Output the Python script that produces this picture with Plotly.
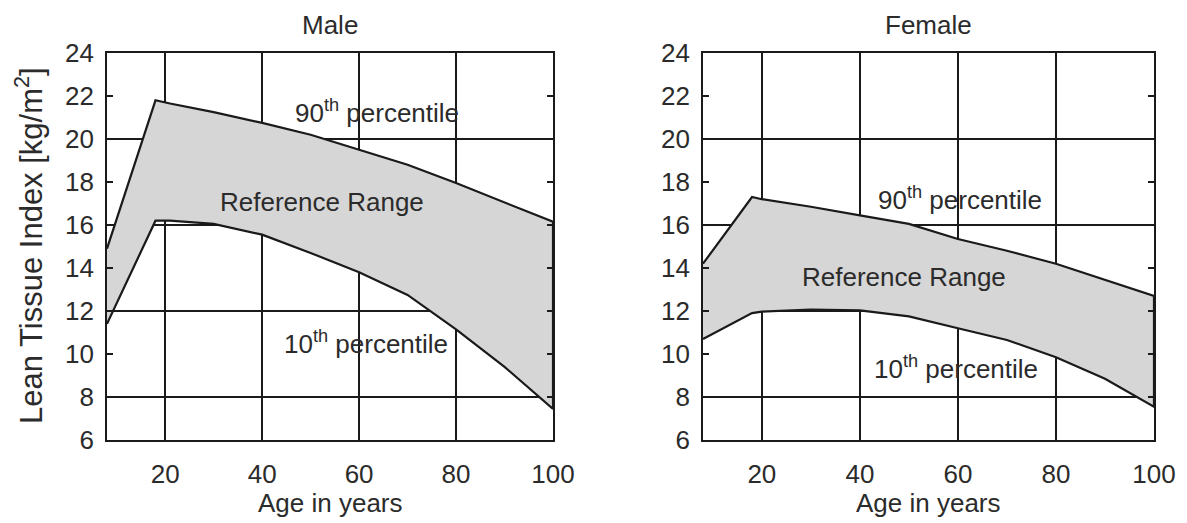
import plotly.graph_objects as go

# Age grid (years) at which the percentile curves are sampled
male_age = [8, 18, 21, 30, 40, 50, 60, 70, 80, 90, 100]
male_p90 = [14.9, 21.8, 21.65, 21.25, 20.75, 20.2, 19.5, 18.8, 17.95, 17.05, 16.15]
male_p10 = [11.4, 16.2, 16.2, 16.05, 15.55, 14.7, 13.8, 12.75, 11.15, 9.4, 7.45]

female_age = [8, 18, 20, 30, 40, 50, 60, 70, 80, 90, 100]
female_p90 = [14.2, 17.3, 17.2, 16.85, 16.45, 16.05, 15.35, 14.8, 14.2, 13.45, 12.7]
female_p10 = [10.7, 11.9, 11.97, 12.07, 12.03, 11.75, 11.2, 10.65, 9.85, 8.85, 7.55]

panel_titles = ["Male", "Female"]
x_ticks = [20, 40, 60, 80, 100]
y_ticks = list(range(6, 25, 2))
y_grid = [8, 12, 16, 20]

FONT = "Liberation Sans, Arial, sans-serif"
TEXT = "#2b2b2b"
INK = "#1a1a1a"
BAND = "#d6d6d6"
W, H = 1187, 523

fig = go.Figure()

panels = [
    ("x", "y", male_age, male_p90, male_p10),
    ("x2", "y2", female_age, female_p90, female_p10),
]
for xa, ya, age, hi, lo in panels:
    fig.add_trace(go.Scatter(
        x=age + age[::-1], y=hi + lo[::-1],
        xaxis=xa, yaxis=ya, mode="lines", fill="toself",
        fillcolor=BAND, line=dict(color=INK, width=2.2),
        hoverinfo="skip", showlegend=False,
    ))

x_domains = [[107 / W, 553 / W], [703 / W, 1154 / W]]
y_domain = [1 - 440 / H, 1 - 53 / H]

axis_common = dict(
    showline=True, linecolor=INK, linewidth=1.8, mirror="ticks",
    tickfont=dict(family=FONT, size=26, color=TEXT),
    zeroline=False, automargin=False,
)
for i, suffix in enumerate(["", "2"]):
    fig.layout["xaxis" + suffix] = dict(
        axis_common, domain=x_domains[i], range=[8, 100],
        tickvals=x_ticks, ticks="", showgrid=True, gridcolor=INK, gridwidth=1.8,
        anchor="y" + suffix, ticklabelstandoff=10,
    )
    fig.layout["yaxis" + suffix] = dict(
        axis_common, domain=y_domain, range=[6, 24],
        tickvals=y_ticks, ticks="inside", ticklen=6, tickwidth=1.8, tickcolor=INK,
        showgrid=False, anchor="x" + suffix, ticklabelstandoff=6,
        minor=dict(tickvals=y_grid, showgrid=True, gridcolor=INK, gridwidth=1.8, ticks=""),
    )

ann = []
label_font = dict(family=FONT, size=26, color=TEXT)

def paper_label(text, px, py, angle=0, size=26):
    return dict(text=text, x=px / W, y=1 - py / H, xref="paper", yref="paper",
                xanchor="center", yanchor="middle", textangle=angle,
                showarrow=False, font=dict(label_font, size=size))

# Panel titles and x-axis titles
for i, title in enumerate(panel_titles):
    cx = sum(x_domains[i]) / 2 * W
    ann.append(paper_label(title, cx, 25))
    ann.append(paper_label("Age in years", cx, 503))

ann.append(paper_label("Lean Tissue Index [kg/m<sup>2</sup>]", 29, 246, -90, size=31))

# Curve labels inside each panel
labels = [
    ("x", "y", 63.7, 21.3, "90<sup>th</sup> percentile"),
    ("x", "y", 52.3, 17.05, "Reference Range"),
    ("x", "y", 61.5, 10.55, "10<sup>th</sup> percentile"),
    ("x2", "y2", 60.5, 17.25, "90<sup>th</sup> percentile"),
    ("x2", "y2", 49.0, 13.6, "Reference Range"),
    ("x2", "y2", 59.6, 9.35, "10<sup>th</sup> percentile"),
]
for xr, yr, x, y, t in labels:
    ann.append(dict(text=t, x=x, y=y, xref=xr, yref=yr, showarrow=False,
                    xanchor="center", yanchor="middle", font=label_font))

fig.update_layout(
    width=W, height=H,
    margin=dict(l=0, r=0, t=0, b=0, pad=0, autoexpand=False),
    paper_bgcolor="white", plot_bgcolor="white",
    annotations=ann,
)

fig.write_html("out.html")
